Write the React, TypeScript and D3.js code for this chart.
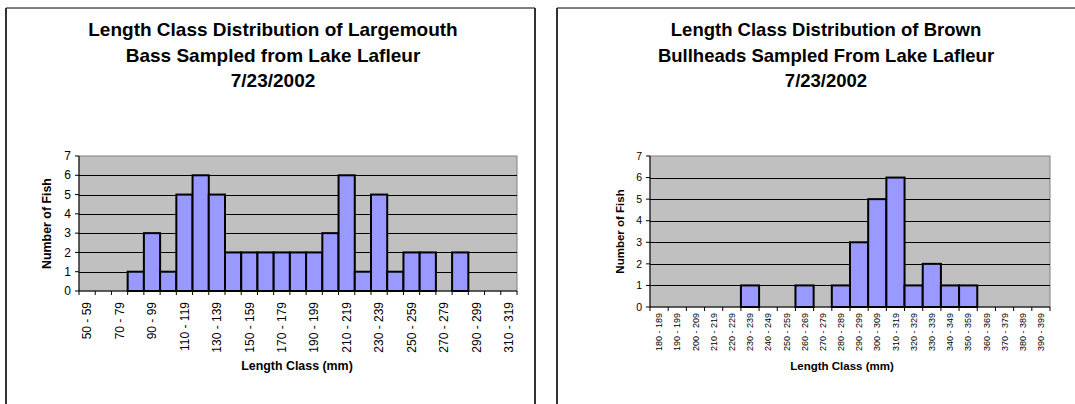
import React from "react";
import * as d3 from "d3";

const bassCategories = [
  "50 - 59", "60 - 69", "70 - 79", "80 - 89", "90 - 99", "100 - 109", "110 - 119", "120 - 129",
  "130 - 139", "140 - 149", "150 - 159", "160 - 169", "170 - 179", "180 - 189", "190 - 199",
  "200 - 209", "210 - 219", "220 - 229", "230 - 239", "240 - 249", "250 - 259", "260 - 269",
  "270 - 279", "280 - 289", "290 - 299", "300 - 309", "310 - 319",
];
const bassCounts = [0, 0, 0, 1, 3, 1, 5, 6, 5, 2, 2, 2, 2, 2, 2, 3, 6, 1, 5, 1, 2, 2, 0, 2, 0, 0, 0];

const bullheadCategories = [
  "180 - 189", "190 - 199", "200 - 209", "210 - 219", "220 - 229", "230 - 239", "240 - 249",
  "250 - 259", "260 - 269", "270 - 279", "280 - 289", "290 - 299", "300 - 309", "310 - 319",
  "320 - 329", "330 - 339", "340 - 349", "350 - 359", "360 - 369", "370 - 379", "380 - 389",
  "390 - 399",
];
const bullheadCounts = [0, 0, 0, 0, 0, 1, 0, 0, 1, 0, 1, 3, 5, 6, 1, 2, 1, 1, 0, 0, 0, 0];

const yTicks = [0, 1, 2, 3, 4, 5, 6, 7];

const bassTitle = ["Length Class Distribution of Largemouth", "Bass Sampled from Lake Lafleur", "7/23/2002"];
const bullTitle = ["Length Class Distribution of Brown", "Bullheads Sampled From Lake Lafleur", "7/23/2002"];

const FONT = "'Liberation Sans', Arial, sans-serif";

type ChartProps = {
  categories: string[];
  counts: number[];
  title: string[];
  titleSize: number;
  frame: { x: number; y: number; w: number; h: number };
  titleCx: number;
  plot: { x0: number; x1: number; y0: number; y1: number };
  labelEvery: number;
  xLabelSize: number;
  yLabelSize: number;
  axisTitleSize: number;
  yTitleX: number;
  xTitleX: number;
  xTitleY: number;
  labelGap: number;
};

function Chart(p: ChartProps) {
  const x = d3.scaleBand<string>().domain(p.categories).range([p.plot.x0, p.plot.x1]).padding(0);
  const y = d3.scaleLinear().domain([0, 7]).range([p.plot.y1, p.plot.y0]);
  const bw = x.bandwidth();
  const boundaries = p.categories.map((c) => x(c) as number).concat([p.plot.x1]);
  return (
    <g>
      <line x1={p.frame.x} y1={p.frame.y} x2={p.frame.x + p.frame.w} y2={p.frame.y} stroke="#000" strokeWidth={1} />
      <line x1={p.frame.x} y1={p.frame.y} x2={p.frame.x} y2={p.frame.y + p.frame.h} stroke="#333" strokeWidth={2} />
      <line x1={p.frame.x + p.frame.w} y1={p.frame.y} x2={p.frame.x + p.frame.w} y2={p.frame.y + p.frame.h} stroke="#333" strokeWidth={2} />
      {p.title.map((t, i) => (
        <text key={i} x={p.titleCx} y={36 + i * 25.5} textAnchor="middle" fontFamily={FONT} fontWeight="bold" fontSize={p.titleSize} fill="#000">
          {t}
        </text>
      ))}
      <rect x={p.plot.x0} y={p.plot.y0} width={p.plot.x1 - p.plot.x0} height={p.plot.y1 - p.plot.y0} fill="#C0C0C0" stroke="#808080" strokeWidth={1} />
      {yTicks.filter((t) => t > 0 && t < 7).map((t) => (
        <line key={t} x1={p.plot.x0} x2={p.plot.x1} y1={Math.round(y(t)) + 0.5} y2={Math.round(y(t)) + 0.5} stroke="#000" strokeWidth={1} />
      ))}
      {p.categories.map((c, i) =>
        p.counts[i] > 0 ? (
          <rect key={c} x={x(c)} y={y(p.counts[i])} width={bw} height={y(0) - y(p.counts[i])} fill="#9999FF" stroke="#000" strokeWidth={2} />
        ) : null
      )}
      <line x1={p.plot.x0} x2={p.plot.x0} y1={p.plot.y0} y2={p.plot.y1} stroke="#000" strokeWidth={1} />
      <line x1={p.plot.x0} x2={p.plot.x1} y1={p.plot.y1} y2={p.plot.y1} stroke="#000" strokeWidth={1} />
      {yTicks.map((t) => (
        <g key={t}>
          <line x1={p.plot.x0 - 4} x2={p.plot.x0} y1={y(t)} y2={y(t)} stroke="#000" />
          <text x={p.plot.x0 - 8} y={y(t)} dy="0.35em" textAnchor="end" fontFamily={FONT} fontSize={p.yLabelSize} fill="#000">
            {t}
          </text>
        </g>
      ))}
      {boundaries.map((bx, i) => (
        <line key={i} x1={bx} x2={bx} y1={p.plot.y1} y2={p.plot.y1 + 4} stroke="#000" />
      ))}
      {p.categories.map((c, i) =>
        i % p.labelEvery === 0 ? (
          <text
            key={c}
            transform={`translate(${(x(c) as number) + bw / 2},${p.plot.y1 + p.labelGap}) rotate(-90)`}
            textAnchor="end"
            dy="0.35em"
            fontFamily={FONT}
            fontSize={p.xLabelSize}
            fill="#000"
          >
            {c}
          </text>
        ) : null
      )}
      <text transform={`translate(${p.yTitleX},${(p.plot.y0 + p.plot.y1) / 2}) rotate(-90)`} textAnchor="middle" dy="0.35em" fontFamily={FONT} fontWeight="bold" fontSize={p.axisTitleSize} fill="#000">
        Number of Fish
      </text>
      <text x={p.xTitleX} y={p.xTitleY} textAnchor="middle" fontFamily={FONT} fontWeight="bold" fontSize={p.axisTitleSize} fill="#000">
        Length Class (mm)
      </text>
    </g>
  );
}

export default function App() {
  return (
    <svg width={1075} height={404} style={{ position: "absolute", left: 0, top: 0, background: "#fff" }}>
      <rect x={0} y={0} width={1075} height={404} fill="#fff" />
      <Chart
        categories={bassCategories}
        counts={bassCounts}
        title={bassTitle}
        titleSize={19}
        frame={{ x: 6, y: 8, w: 529, h: 420 }}
        titleCx={273}
        plot={{ x0: 79, x1: 517, y0: 156, y1: 291 }}
        labelEvery={2}
        xLabelSize={12}
        yLabelSize={12}
        axisTitleSize={12.4}
        yTitleX={47}
        xTitleX={297}
        xTitleY={370}
        labelGap={11}
      />
      <Chart
        categories={bullheadCategories}
        counts={bullheadCounts}
        title={bullTitle}
        titleSize={18.5}
        frame={{ x: 557, y: 8, w: 560, h: 420 }}
        titleCx={826}
        plot={{ x0: 650, x1: 1050, y0: 156, y1: 307 }}
        labelEvery={1}
        xLabelSize={9}
        yLabelSize={10.5}
        axisTitleSize={11.5}
        yTitleX={620}
        xTitleX={842}
        xTitleY={370}
        labelGap={6}
      />
    </svg>
  );
}
